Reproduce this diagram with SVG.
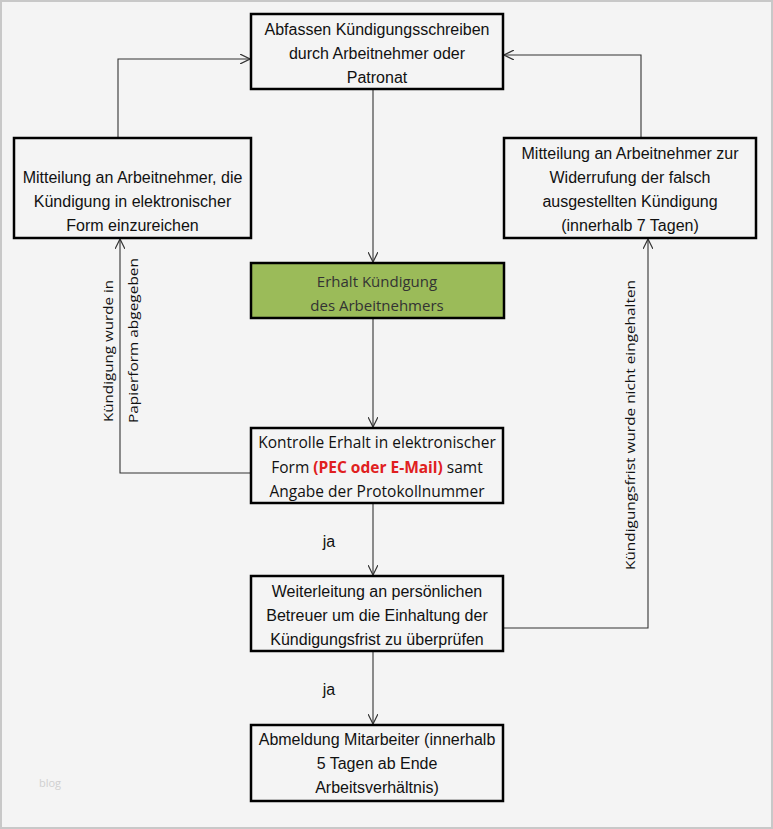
<svg xmlns="http://www.w3.org/2000/svg" width="773" height="829" viewBox="0 0 773 829">
<defs>
<marker id="ah" viewBox="0 0 10 10" refX="10" refY="5" markerWidth="10" markerHeight="10" markerUnits="userSpaceOnUse" orient="auto">
<path d="M0,0 L10,5 L0,10" fill="none" stroke="#333" stroke-width="1.2"/>
</marker>
<style>
.box{fill:none;stroke:#000;stroke-width:2.5}
.t{font-family:"Liberation Sans",Arial,sans-serif;font-size:16px;fill:#111;text-anchor:middle}
.s{font-family:"Open Sans","Noto Sans",sans-serif;font-size:15.5px;fill:#111;text-anchor:middle}
.r{font-family:"Open Sans","Noto Sans",sans-serif;font-size:13.5px;fill:#111}
.c{fill:none;stroke:#333;stroke-width:1.1}
.red{fill:#e02020;font-weight:bold}
</style>
</defs>
<rect x="1" y="1" width="771" height="827" fill="#f4f4f4" stroke="#c8c8c8" stroke-width="2"/>
<g id="connectors">
<path class="c" d="M373 89 V262" marker-end="url(#ah)"/>
<path class="c" d="M373 318 V427" marker-end="url(#ah)"/>
<path class="c" d="M373 503 V575" marker-end="url(#ah)"/>
<path class="c" d="M373 651 V724" marker-end="url(#ah)"/>
<path class="c" d="M251 473 H120 V239" marker-end="url(#ah)"/>
<path class="c" d="M118 138 V59 H250" marker-end="url(#ah)"/>
<path class="c" d="M503 628 H648 V239" marker-end="url(#ah)"/>
<path class="c" d="M641 138 V55 H504" marker-end="url(#ah)"/>
<text class="r" transform="translate(113,422) rotate(-90)" textLength="142" lengthAdjust="spacingAndGlyphs">Kündigung wurde in</text>
<text class="r" transform="translate(138,423) rotate(-90)" textLength="165" lengthAdjust="spacingAndGlyphs">Papierform abgegeben</text>
<text class="r" transform="translate(635,570) rotate(-90)" textLength="290" lengthAdjust="spacingAndGlyphs">Kündigungsfrist wurde nicht eingehalten</text>
<text class="t" x="329" y="547">ja</text>
<text class="t" x="329" y="695">ja</text>
</g>
<g id="n1">
<rect class="box" x="251" y="14" width="252" height="75"/>
<text class="t" x="377" y="35">Abfassen Kündigungsschreiben</text>
<text class="t" x="377" y="59">durch Arbeitnehmer oder</text>
<text class="t" x="377" y="83">Patronat</text>
</g>
<g id="n2">
<rect class="box" x="14" y="138" width="237" height="100"/>
<text class="t" x="132.5" y="183">Mitteilung an Arbeitnehmer, die</text>
<text class="t" x="132.5" y="207">Kündigung in elektronischer</text>
<text class="t" x="132.5" y="231">Form einzureichen</text>
</g>
<g id="n3">
<rect class="box" x="504" y="138" width="252" height="100"/>
<text class="t" x="630" y="159">Mitteilung an Arbeitnehmer zur</text>
<text class="t" x="630" y="183">Widerrufung der falsch</text>
<text class="t" x="630" y="207">ausgestellten Kündigung</text>
<text class="t" x="630" y="231">(innerhalb 7 Tagen)</text>
</g>
<g id="n4">
<rect x="251" y="263" width="253" height="55" fill="#9bbb59" stroke="#000" stroke-width="2.5"/>
<text class="s" x="377" y="287" style="fill:#333;font-size:15px">Erhalt Kündigung</text>
<text class="s" x="377" y="311" style="fill:#333;font-size:15px">des Arbeitnehmers</text>
</g>
<g id="n5">
<rect class="box" x="251" y="428" width="252" height="75"/>
<text class="s" x="377" y="448">Kontrolle Erhalt in elektronischer</text>
<text class="s" x="377" y="473">Form <tspan class="red">(PEC oder E-Mail)</tspan> samt</text>
<text class="s" x="377" y="497">Angabe der Protokollnummer</text>
</g>
<g id="n6">
<rect class="box" x="251" y="576" width="252" height="75"/>
<text class="t" x="377" y="597">Weiterleitung an persönlichen</text>
<text class="t" x="377" y="621">Betreuer um die Einhaltung der</text>
<text class="t" x="377" y="645">Kündigungsfrist zu überprüfen</text>
</g>
<g id="n7">
<rect class="box" x="251" y="725" width="252" height="76"/>
<text class="t" x="377" y="745">Abmeldung Mitarbeiter (innerhalb</text>
<text class="t" x="377" y="769">5 Tagen ab Ende</text>
<text class="t" x="377" y="793">Arbeitsverhältnis)</text>
</g>
<text x="39" y="787" style="font-family:'Open Sans',sans-serif;font-size:11px;fill:#d0d0d0">blog</text>
</svg>
